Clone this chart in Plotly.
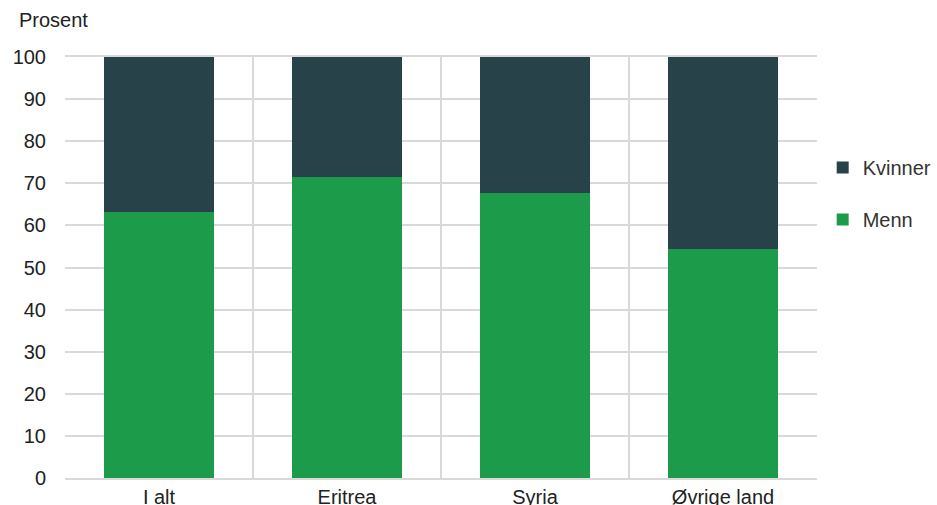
import plotly.graph_objects as go

categories = ["I alt", "Eritrea", "Syria", "Øvrige land"]
menn = [63.2, 71.5, 67.6, 54.5]
kvinner = [36.8, 28.5, 32.4, 45.5]
y_ticks = [0, 10, 20, 30, 40, 50, 60, 70, 80, 90, 100]

FONT = "Liberation Sans, Arial, sans-serif"
GRID = "#d9d9d9"

fig = go.Figure()
fig.add_trace(go.Bar(x=categories, y=menn, name="Menn", marker_color="#1c9c4a",
                     marker_line_width=0, legendgroup="m", legendrank=2))
fig.add_trace(go.Bar(x=categories, y=kvinner, name="Kvinner", marker_color="#284249",
                     marker_line_width=0, legendgroup="k", legendrank=1))

fig.update_layout(
    barmode="stack",
    bargap=0.413,
    width=937, height=505,
    margin=dict(l=65, r=120, t=57, b=27, autoexpand=False),
    paper_bgcolor="white", plot_bgcolor="white",
    font=dict(family=FONT, size=20, color="#222222"),
    legend=dict(xref="container", yref="container", x=0.878, y=0.617,
                xanchor="left", yanchor="middle",
                traceorder="grouped", tracegroupgap=23,
                font=dict(size=20, color="#333333"), itemwidth=30),
    xaxis=dict(type="category", tickson="boundaries", showgrid=True, gridcolor=GRID,
               gridwidth=2, ticks="", showline=True, linecolor=GRID, linewidth=2,
               mirror=True, automargin=False, tickfont=dict(size=20, color="#222222")),
    yaxis=dict(range=[0, 100], tickvals=y_ticks, showgrid=True, gridcolor=GRID,
               gridwidth=2, zeroline=False, ticks="", showline=False, automargin=False,
               ticklabelstandoff=18,
               tickfont=dict(size=20, color="#222222")),
    annotations=[dict(text="Prosent", xref="paper", yref="paper", x=-0.064, y=1.088,
                      xanchor="left", yanchor="middle", showarrow=False,
                      font=dict(size=20, color="#222222"))],
)

fig.write_html("out.html", config={"displayModeBar": False},
               post_script="document.body.style.margin='0';document.body.style.overflow='hidden';")
